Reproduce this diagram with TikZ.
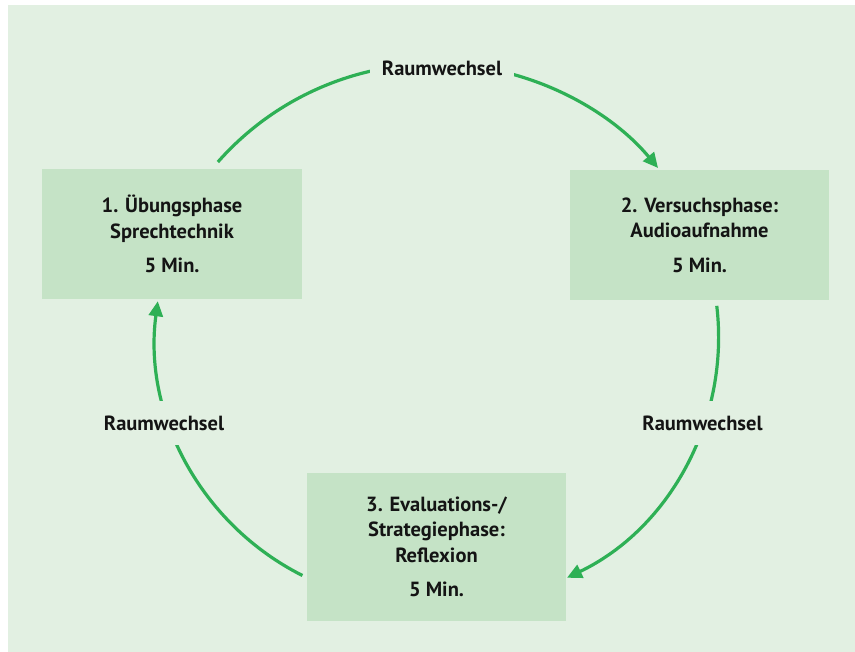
\documentclass[tikz,border=0pt]{standalone}
\usepackage{fontspec}
\setmainfont{PT Sans}
\usetikzlibrary{arrows.meta,calc}
\definecolor{bgc}{HTML}{E2F0E2}
\definecolor{boxc}{HTML}{C5E3C6}
\definecolor{arrc}{HTML}{2EB055}
\definecolor{txtc}{HTML}{141414}
\tikzset{
  phasebox/.style={fill=boxc, draw=none, inner sep=0pt, align=center, text=txtc,
    font=\fontsize{20.5}{25.5}\selectfont\bfseries},
  changelabel/.style={fill=bgc, inner xsep=12pt, inner ysep=15pt, text=txtc,
    font=\fontsize{20.5}{25.5}\selectfont\bfseries},
  flow/.style={draw=arrc, line width=3.2pt, -{Triangle[length=15pt,width=14pt]}}
}
\begin{document}
\begin{tikzpicture}[x=1pt,y=1pt]
\useasboundingbox (0,0) rectangle (855,652);
\fill[white] (0,0) rectangle (855,652);
\fill[bgc] (8,0) rectangle (855,647);
% boxes
\node[phasebox, minimum width=260pt, minimum height=130pt] (b1) at (172,418)
  {1. Übungsphase\\Sprechtechnik\\[9pt]5 Min.};
\node[phasebox, minimum width=259pt, minimum height=130pt] (b2) at (699.5,417)
  {2. Versuchsphase:\\Audioaufnahme\\[9pt]5 Min.};
\node[phasebox, minimum width=259pt, minimum height=148pt] (b3) at (436.5,105)
  {3. Evaluations-/\\Strategiephase:\\Reflexion\\[9pt]5 Min.};
% arc start points
\coordinate (s1) at ($(435.4,298.2)+(138.6:290)$);
\coordinate (s2) at ($(451.6,315)+(6.7:267)$);
\coordinate (s3) at ($(422.4,315)+(243.3:267)$);
% arcs
\draw[flow] (s1) arc[start angle=138.6, end angle=39.85, radius=290pt];
\draw[flow] (s2) arc[start angle=6.7, end angle=-64.4, radius=267pt];
\draw[flow] (s3) arc[start angle=243.3, end angle=172.3, radius=267pt];
% labels
\node[changelabel] (l1) at (442,584) {Raumwechsel};
\node[changelabel] (l2) at (702.5,229) {Raumwechsel};
\node[changelabel] (l3) at (164,229) {Raumwechsel};
\end{tikzpicture}
\end{document}
